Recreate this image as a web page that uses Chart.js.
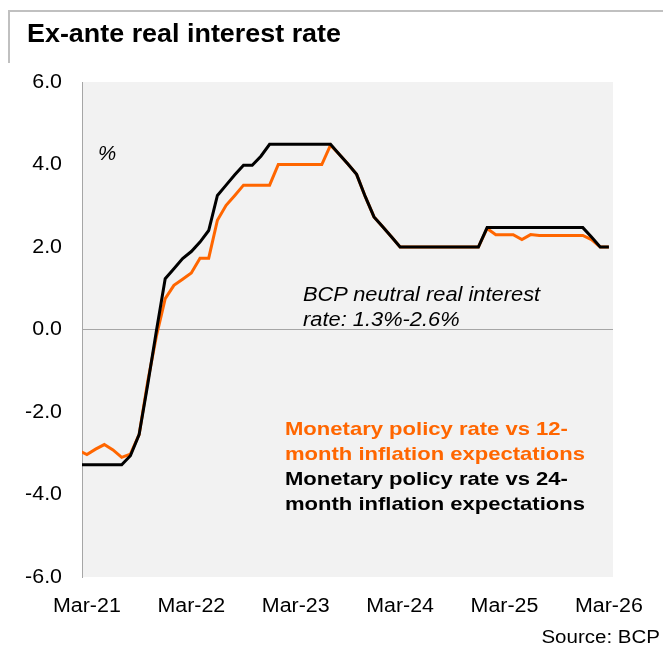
<!DOCTYPE html>
<html lang="en">
<head>
<meta charset="UTF-8">
<title>Ex-ante real interest rate</title>
<script src="https://cdn.jsdelivr.net/npm/chart.js@4.4.1/dist/chart.umd.min.js"></script>
<style>
    body { margin: 0; background: #fff; font-family: "Liberation Sans", Arial, sans-serif; }
    #marco { position: relative; width: 663px; height: 646px; overflow: hidden; }
    #grafico { position: absolute; left: 0; top: 0; }
    #caja { position: absolute; left: 8px; top: 10px; width: 670px; height: 51px;
            border-top: 2px solid #c0c0c0; border-left: 2px solid #c0c0c0; }
    .txt { position: absolute; white-space: nowrap; transform-origin: 0 0; color: #000; }
    #titulo { left: 27px; top: 18px; font-size: 25px; line-height: 30px; font-weight: bold; transform: scaleX(1.076); }
    #pct { left: 98px; top: 143px; font-size: 20.5px; line-height: 20px; font-style: italic; }
    #neutral { left: 303px; top: 282px; font-size: 19.5px; line-height: 24.5px; font-style: italic; transform: scaleX(1.12); }
    #leyenda { left: 285px; top: 416px; font-size: 19px; line-height: 25px; font-weight: bold; transform: scaleX(1.16); }
    #leyenda .nar { color: #ff6600; }
    #fuente { right: 3px; top: 627px; font-size: 18px; line-height: 20px; transform: scaleX(1.14); transform-origin: 100% 0; }
</style>
</head>
<body>
<div id="marco">
    <canvas id="grafico" width="663" height="646"></canvas>
    <div id="caja"></div>
    <div class="txt" id="titulo">Ex-ante real interest rate</div>
    <div class="txt" id="pct">%</div>
    <div class="txt" id="neutral">BCP neutral real interest<br>rate: 1.3%-2.6%</div>
    <div class="txt" id="leyenda">
        <span class="nar">Monetary policy rate vs 12-<br>month inflation expectations</span><br>
        Monetary policy rate vs 24-<br>month inflation expectations
    </div>
    <div class="txt" id="fuente">Source: BCP</div>
</div>

<script>
    // meses: Feb-21 (0) ... Mar-26 (61)
    var tasa12 = [
        -2.93, -3.03, -2.90, -2.79, -2.92, -3.10, -3.02, -2.55, -1.25, -0.15,
        0.75, 1.07, 1.22, 1.37, 1.73, 1.73, 2.65, 3.01, 3.25, 3.50,
        3.50, 3.50, 3.50, 4.00, 4.00, 4.00, 4.00, 4.00, 4.00, 4.47,
        4.25, 4.01, 3.76, 3.22, 2.73, 2.49, 2.25, 2.00, 2.00, 2.00,
        2.00, 2.00, 2.00, 2.00, 2.00, 2.00, 2.00, 2.45, 2.30, 2.30,
        2.30, 2.18, 2.30, 2.28, 2.28, 2.28, 2.28, 2.28, 2.28, 2.18,
        2.00, 2.00
    ]
    var tasa24 = [
        -3.28, -3.28, -3.28, -3.28, -3.28, -3.28, -3.06, -2.55, -1.32, -0.02,
        1.23, 1.47, 1.72, 1.89, 2.12, 2.40, 3.25, 3.50, 3.75, 3.98,
        3.98, 4.20, 4.49, 4.49, 4.49, 4.49, 4.49, 4.49, 4.49, 4.49,
        4.25, 4.01, 3.76, 3.22, 2.73, 2.49, 2.25, 2.00, 2.00, 2.00,
        2.00, 2.00, 2.00, 2.00, 2.00, 2.00, 2.00, 2.47, 2.47, 2.47,
        2.47, 2.47, 2.47, 2.47, 2.47, 2.47, 2.47, 2.47, 2.47, 2.24,
        2.00, 2.00
    ]
    // posiciones de las etiquetas (indice del mes) y sus textos
    var posMarzo = [1, 13, 25, 37, 49, 61]
    var etiquetasX = ['Mar-21', 'Mar-22', 'Mar-23', 'Mar-24', 'Mar-25', 'Mar-26']
    var valoresY = [-6, -4, -2, 0, 2, 4, 6]

    function puntos(serie) {
        return serie.map(function (v, i) { return { x: i, y: v } })
    }

    // fondo gris del area y etiquetas de los ejes
    const fondoYTextos = {
        id: 'fondoYTextos',
        beforeDraw(chart) {
            const a = chart.chartArea
            const ctx = chart.ctx
            ctx.save()
            ctx.fillStyle = '#f2f2f2'
            ctx.fillRect(a.left, a.top, a.right - a.left, a.bottom - a.top)
            ctx.restore()
        },
        afterDraw(chart) {
            const ctx = chart.ctx
            const sx = chart.scales.x
            const sy = chart.scales.y
            ctx.save()
            ctx.fillStyle = '#000'
            ctx.font = '20px "Liberation Sans", Arial, sans-serif'
            ctx.textBaseline = 'middle'
            ctx.textAlign = 'right'
            valoresY.forEach(function (v) {
                ctx.save()
                ctx.translate(62, sy.getPixelForValue(v))
                ctx.scale(1.07, 1)
                ctx.fillText(v.toFixed(1), 0, 0)
                ctx.restore()
            })
            ctx.textAlign = 'center'
            ctx.textBaseline = 'alphabetic'
            posMarzo.forEach(function (p, i) {
                ctx.save()
                ctx.translate(sx.getPixelForValue(p), 612)
                ctx.scale(1.07, 1)
                ctx.fillText(etiquetasX[i], 0, 0)
                ctx.restore()
            })
            ctx.restore()
        }
    }

    const grafico = new Chart(document.getElementById('grafico'), {
        type: 'line',
        data: {
            datasets: [{
                label: 'Monetary policy rate vs 24-month inflation expectations',
                data: puntos(tasa24),
                borderColor: '#000000',
                borderWidth: 3,
                order: 1,
                clip: 0
            }, {
                label: 'Monetary policy rate vs 12-month inflation expectations',
                data: puntos(tasa12),
                borderColor: '#ff6600',
                borderWidth: 3,
                order: 2,
                clip: 0
            }]
        },
        options: {
            responsive: false,
            animation: false,
            layout: { padding: { left: 0, right: 50, top: 82, bottom: 0 } },
            plugins: { legend: { display: false }, tooltip: { enabled: false } },
            elements: { point: { radius: 0 }, line: { tension: 0 } },
            scales: {
                x: {
                    type: 'linear',
                    min: 0.437,
                    max: 61.47,
                    grid: { display: false },
                    border: { display: false },
                    ticks: { display: false },
                    afterFit(s) { s.height = 69 },
                    afterBuildTicks(s) { s.ticks = posMarzo.map(function (v) { return { value: v } }) }
                },
                y: {
                    min: -6,
                    max: 6,
                    ticks: { stepSize: 2, display: false },
                    grid: {
                        drawTicks: false,
                        lineWidth: 1,
                        color: function (c) { return c.tick && c.tick.value === 0 ? '#a6a6a6' : 'rgba(0,0,0,0)' }
                    },
                    border: { display: true, color: '#a6a6a6', width: 1 },
                    afterFit(s) { s.width = 82 }
                }
            }
        },
        plugins: [fondoYTextos]
    })
</script>
</body>
</html>
